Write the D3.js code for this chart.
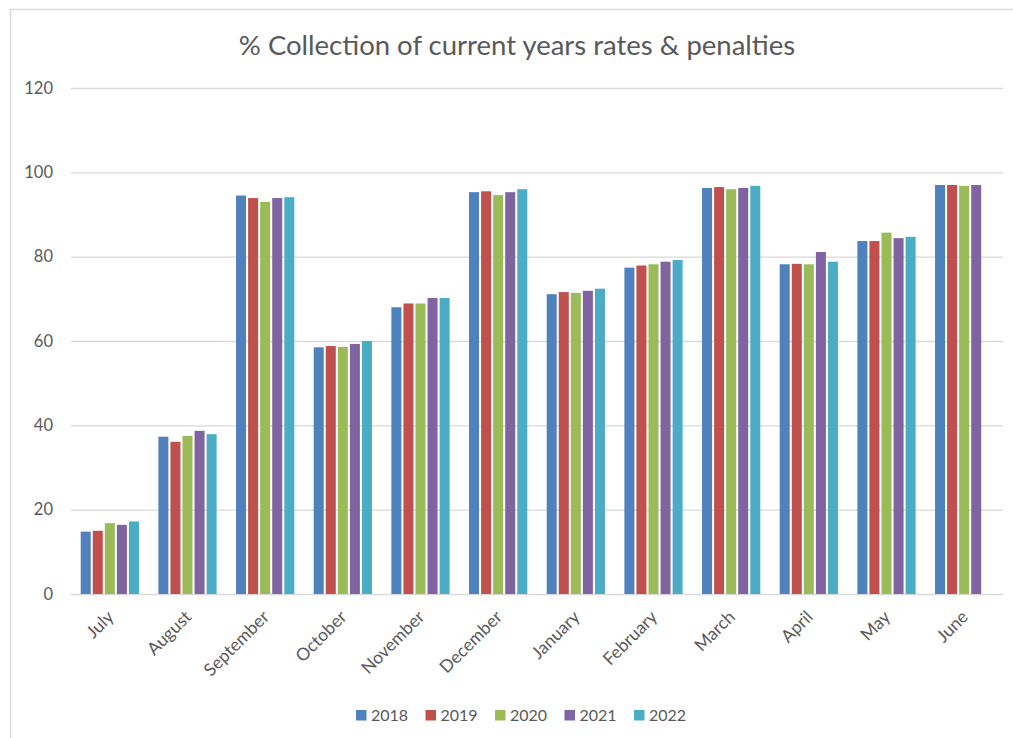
<!DOCTYPE html>
<html>
<head>
<meta charset="utf-8">
<script src="https://cdn.jsdelivr.net/npm/d3@7"></script>
<style>
  body { margin: 0; background: #fff; }
  text { font-family: Lato, "Open Sans", sans-serif; fill: #595959; }
</style>
</head>
<body>
<div id="chart"></div>
<script>
  // values
  const months = ['July', 'August', 'September', 'October', 'November', 'December',
                  'January', 'February', 'March', 'April', 'May', 'June'];
  const years = ['2018', '2019', '2020', '2021', '2022'];
  const yTicks = [0, 20, 40, 60, 80, 100, 120];

  const v2018 = [14.8, 37.3, 94.5, 58.5, 68.0, 95.3, 71.1, 77.4, 96.3, 78.2, 83.7, 97.0];
  const v2019 = [15.0, 36.1, 93.9, 58.8, 68.9, 95.5, 71.6, 77.9, 96.5, 78.3, 83.7, 97.0];
  const v2020 = [16.8, 37.5, 93.0, 58.6, 68.9, 94.6, 71.4, 78.2, 96.0, 78.2, 85.7, 96.8];
  const v2021 = [16.4, 38.7, 93.9, 59.3, 70.2, 95.3, 71.9, 78.8, 96.3, 81.1, 84.4, 97.0];
  const v2022 = [17.2, 37.9, 94.1, 60.0, 70.2, 96.0, 72.4, 79.2, 96.8, 78.8, 84.7, null];

  const series = {'2018': v2018, '2019': v2019, '2020': v2020, '2021': v2021, '2022': v2022};
  const colors = ['#4F81BD', '#C0504D', '#9BBB59', '#8064A2', '#4BACC6'];

  const width = 1013, height = 738;
  const margins = {top: 88, right: 10, bottom: 144, left: 71};

  const svg = d3.select('#chart')
    .append('svg')
      .attr('width', width)
      .attr('height', height);

  // chart frame (runs off the right and bottom edges in the reference)
  svg.append('rect')
    .attr('x', 10.5)
    .attr('y', 9.5)
    .attr('width', width + 20)
    .attr('height', height + 20)
    .attr('fill', 'none')
    .attr('stroke', '#d9d9d9')
    .attr('stroke-width', 1.5);

  const color = d3.scaleOrdinal().domain(years).range(colors);

  const x0 = d3.scaleBand()
    .domain(months)
    .range([margins.left, width - margins.right])
    .paddingInner(0.25)
    .paddingOuter(0.125);

  const x1 = d3.scaleBand()
    .domain(years)
    .range([0, x0.bandwidth()])
    .paddingInner(0.17);

  const y = d3.scaleLinear()
    .domain([0, 120])
    .range([height - margins.bottom, margins.top]);

  // gridlines + y labels
  const yGroup = svg.append('g')
    .attr('transform', `translate(${margins.left}, 0)`)
    .call(d3.axisLeft(y)
      .tickValues(yTicks)
      .tickSize(-(width - margins.right - margins.left))
      .tickPadding(18));
  yGroup.select('.domain').remove();
  yGroup.selectAll('line').attr('stroke', '#d9d9d9').attr('stroke-width', 1.3);
  yGroup.selectAll('text')
    .style('font-size', '16.5px')
    .attr('fill', '#595959');

  // bars
  const rows = months.map((m, i) => ({month: m, values: years.map(yr => ({year: yr, value: series[yr][i]}))}));

  svg.append('g')
    .attr('class', 'bars')
    .selectAll('g')
    .data(rows)
    .join('g')
      .attr('transform', d => `translate(${x0(d.month)}, 0)`)
    .selectAll('rect')
    .data(d => d.values.filter(v => v.value != null))
    .join('rect')
      .attr('x', d => x1(d.year))
      .attr('y', d => y(d.value))
      .attr('width', x1.bandwidth())
      .attr('height', d => y(0) - y(d.value))
      .attr('fill', d => color(d.year));

  // month labels
  const xGroup = svg.append('g')
    .attr('transform', `translate(0, ${height - margins.bottom})`)
    .call(d3.axisBottom(x0).tickSize(0).tickPadding(0));
  xGroup.select('.domain').remove();
  xGroup.selectAll('text')
    .style('font-size', '17.5px')
    .attr('fill', '#595959')
    .attr('text-anchor', 'end')
    .attr('y', 0)
    .attr('dy', 0)
    .attr('transform', 'translate(5, 24) rotate(-45)');

  // title
  svg.append('text')
    .attr('x', 517)
    .attr('y', 55)
    .attr('text-anchor', 'middle')
    .style('font-size', '27.5px')
    .text('% Collection of current years rates & penalties');

  // legend
  const legend = svg.append('g')
    .selectAll('g')
    .data(years)
    .join('g')
      .attr('transform', (d, i) => `translate(${356 + i * 69.5}, 710)`);
  legend.append('rect')
    .attr('width', 10.5)
    .attr('height', 10.5)
    .attr('fill', d => color(d));
  legend.append('text')
    .attr('x', 15)
    .attr('y', 11)
    .style('font-size', '16px')
    .text(d => d);
</script>
</body>
</html>
